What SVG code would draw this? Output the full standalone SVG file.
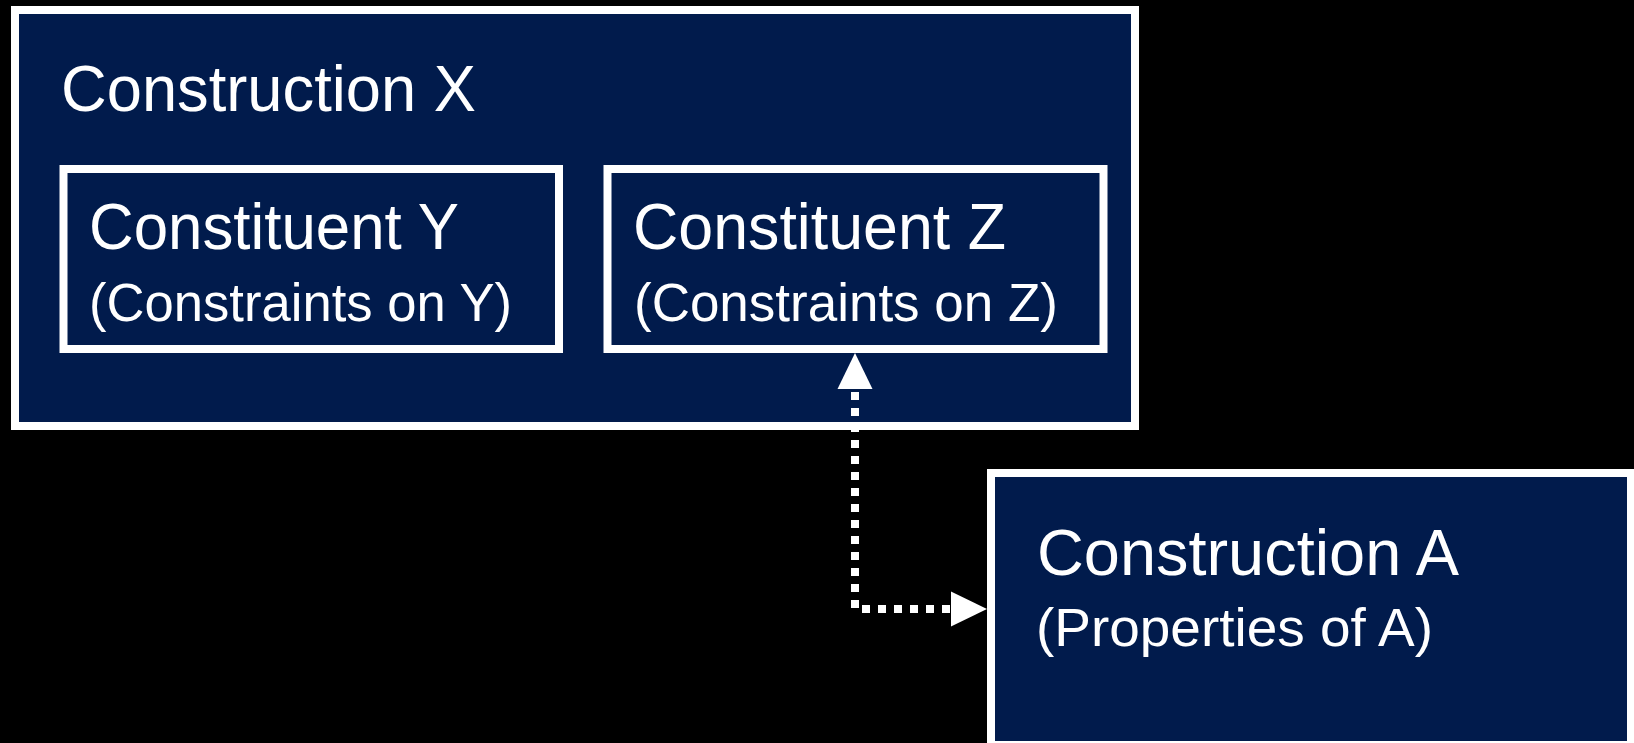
<svg xmlns="http://www.w3.org/2000/svg" width="1634" height="743" viewBox="0 0 1634 743">
<defs>
<style>
.box{fill:#011b4c;stroke:#ffffff;stroke-width:8}
.t{fill:#ffffff;font-family:"Liberation Sans",Arial,sans-serif}
.big{font-size:64px}
.small{font-size:53px}
.conn{fill:none;stroke:#ffffff;stroke-width:8;stroke-dasharray:8 8}
.head{fill:#ffffff}
</style>
</defs>
<rect width="1634" height="743" fill="#000000"/>
<g id="construction-x">
<rect class="box" x="15" y="10" width="1120" height="416"/>
<text class="t big" x="61" y="111" textLength="415" lengthAdjust="spacingAndGlyphs">Construction X</text>
</g>
<g id="constituent-y">
<rect class="box" x="63.5" y="169" width="495.5" height="180"/>
<text class="t big" x="89" y="249" textLength="370" lengthAdjust="spacingAndGlyphs">Constituent Y</text>
<text class="t small" x="89" y="321" textLength="423" lengthAdjust="spacingAndGlyphs">(Constraints on Y)</text>
</g>
<g id="constituent-z">
<rect class="box" x="607.5" y="169" width="496" height="180"/>
<text class="t big" x="633" y="249" textLength="373" lengthAdjust="spacingAndGlyphs">Constituent Z</text>
<text class="t small" x="634" y="321" textLength="424" lengthAdjust="spacingAndGlyphs">(Constraints on Z)</text>
</g>
<g id="construction-a">
<rect class="box" x="991" y="473" width="640" height="272"/>
<text class="t big" x="1037" y="575" textLength="422" lengthAdjust="spacingAndGlyphs">Construction A</text>
<text class="t small" x="1036" y="646" textLength="397" lengthAdjust="spacingAndGlyphs">(Properties of A)</text>
</g>
<g id="connectors">
<path class="conn" d="M855 392 L855 609 L951 609"/>
<polygon class="head" points="855,353 872.5,389 837.5,389"/>
<polygon class="head" points="987,609 951,591.5 951,626.5"/>
</g>
</svg>
